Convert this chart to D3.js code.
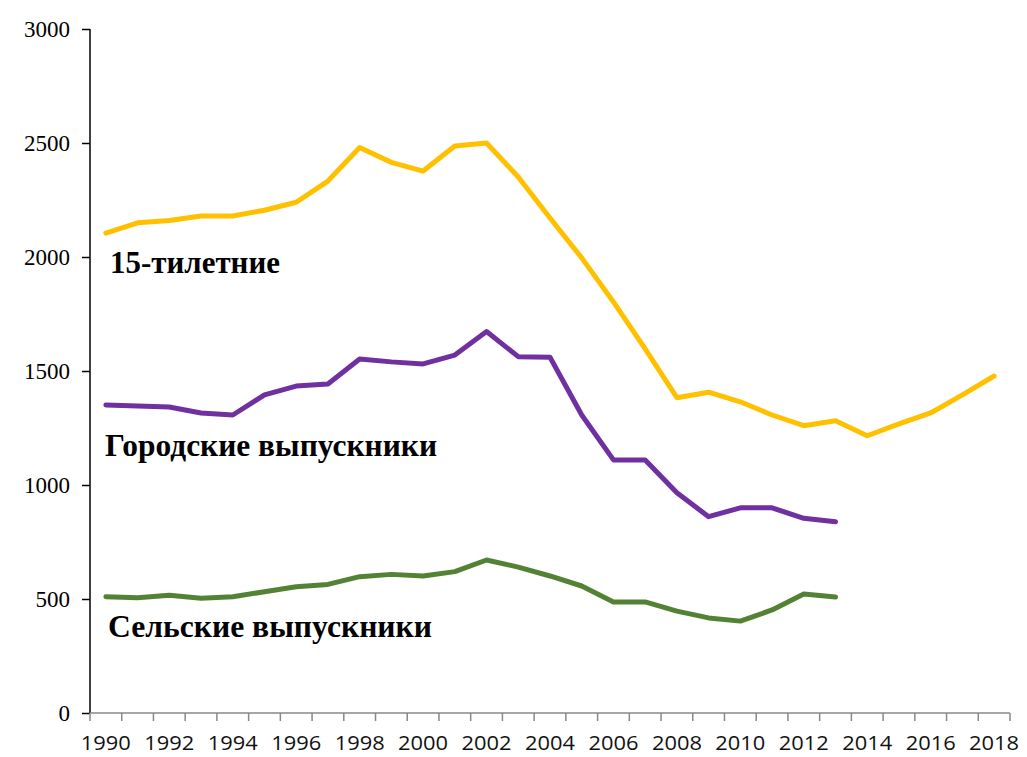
<!DOCTYPE html>
<html><head><meta charset="utf-8">
<script src="https://cdn.jsdelivr.net/npm/d3@7"></script>
<style>body{margin:0;background:#fff}</style>
</head><body>
<svg id="c" width="1027" height="757"></svg>
<script>
const years = d3.range(1990, 2019);
const teens15 = [2105,2150,2160,2180,2180,2205,2240,2333,2480,2415,2377,2487,2500,2351,2171,1996,1803,1597,1383,1407,1365,1307,1260,1282,1216,1268,1316,1395,1478];
const urbanGrads = [1351,1347,1342,1316,1307,1395,1434,1443,1553,1540,1531,1570,1673,1563,1560,1307,1110,1110,966,861,900,900,854,839];
const ruralGrads = [510,506,516,503,510,532,554,564,598,608,601,620,671,640,601,557,487,487,447,417,403,452,522,509];
const yTicks = [0,500,1000,1500,2000,2500,3000];
const xTickLabels = d3.range(1990, 2019, 2);
const seriesLabels = ["15-тилетние","Городские выпускники","Сельские выпускники"];

const svg = d3.select("#c");
const x = d3.scaleBand().domain(years).range([90, 1010]);
const y = d3.scaleLinear().domain([0, 3000]).range([713, 29]);

// y axis
const ya = svg.append("g").attr("transform","translate(90,0)")
  .call(d3.axisLeft(y).tickValues(yTicks).tickSize(8).tickPadding(12).tickFormat(d3.format("d")));
ya.selectAll("path,line").attr("stroke","#000").attr("stroke-width",1.5);
ya.select(".domain").attr("d","M0,29V713");
ya.selectAll("text").attr("font-family","Liberation Serif, serif").attr("font-size",23).attr("fill","#000");

// x axis
const xa = svg.append("g").attr("transform","translate(0,713)");
xa.append("line").attr("x1",90).attr("x2",1010).attr("stroke","#888").attr("stroke-width",1.5);
const bounds = years.map(d=>x(d)).concat([x.range()[1]]);
xa.selectAll("line.t").data(bounds).join("line").attr("class","t")
  .attr("x1",d=>d).attr("x2",d=>d).attr("y1",0).attr("y2",8).attr("stroke","#888").attr("stroke-width",1.5);
xa.selectAll("text").data(xTickLabels).join("text")
  .attr("x",d=>x(d)+x.bandwidth()/2).attr("y",37)
  .attr("text-anchor","middle").attr("font-family","Open Sans, sans-serif").attr("font-size",20).attr("fill","#111")
  .attr("textLength",50).attr("lengthAdjust","spacingAndGlyphs")
  .text(d=>d);

const line = d3.line().x((d,i)=>x(years[i])+x.bandwidth()/2).y(d=>y(d)).curve(d3.curveLinear);
const series = [[teens15,"#FFC000"],[urbanGrads,"#7030A0"],[ruralGrads,"#548235"]];
series.forEach(([vals,col])=>{
  svg.append("path").datum(vals).attr("d",line).attr("fill","none")
    .attr("stroke",col).attr("stroke-width",5).attr("stroke-linejoin","round").attr("stroke-linecap","round");
});

// labels
const labelPos = [[1930,110,170],[1127,105,332],[333,108,324]];
seriesLabels.forEach((t,i)=>{
  svg.append("text").attr("x",labelPos[i][1]).attr("y",y(labelPos[i][0]))
    .attr("font-family","Liberation Serif, serif").attr("font-weight","bold").attr("font-size",31)
    .attr("textLength",labelPos[i][2]).attr("lengthAdjust","spacingAndGlyphs")
    .attr("fill","#000").text(t);
});
</script>
</body></html>
